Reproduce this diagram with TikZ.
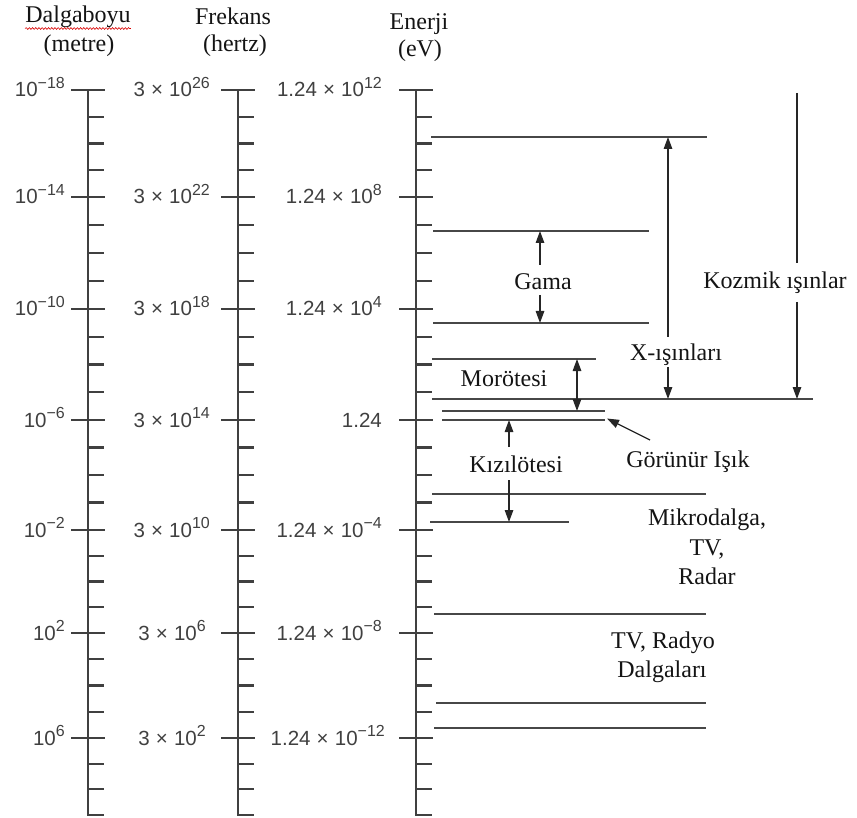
\documentclass[tikz,border=0pt]{standalone}
\usepackage{fontspec}
\setmainfont{Liberation Serif}
\newfontfamily\lsans{Liberation Sans}
\usetikzlibrary{arrows.meta,decorations.pathmorphing}
\newcommand\ex[1]{\raisebox{0.40em}{\fontsize{16}{16}\selectfont #1}}
\newcommand\tms{\hspace{0.3em}×\hspace{0.3em}}
\tikzset{
  axisl/.style={line width=2.3pt, draw=black!75, line join=miter},
  band/.style={line width=2.1pt, draw=black!72},
  arr/.style={line width=1.3pt, draw=black!85, -{Triangle[length=12pt,width=8.5pt]}},
  arrs/.style={line width=1.3pt, draw=black!85, {Triangle[length=12pt,width=8.5pt]}-{Triangle[length=12pt,width=8.5pt]}},
  plain/.style={line width=1.3pt, draw=black!85},
  hdr/.style={inner sep=0pt, anchor=base, text=black!92, font=\fontsize{24}{28}\selectfont},
  num/.style={inner sep=0pt, anchor=base east, text=black!75, font=\lsans\fontsize{20.5}{24}\selectfont},
}
\begin{document}
\begin{tikzpicture}[x=1pt,y=-1pt]
\useasboundingbox (0,0) rectangle (857,818);
% axes
\foreach \x in {88,238,416} {
  \draw[axisl] (\x,90) -- (\x,815) -- (\x+16,815);
  \foreach \y in {90,197,309,420,530,633,738}
    \draw[axisl] (\x-17,\y) -- (\x+17,\y);
  \foreach \ya/\yb in {90/197,197/309,309/420,420/530,530/633,633/738}
    \foreach \k in {1,2,3}
      \draw[axisl] (\x,{\ya+\k*(\yb-\ya)/4}) -- (\x+16,{\ya+\k*(\yb-\ya)/4});
  \foreach \y in {764,789}
    \draw[axisl] (\x,\y) -- (\x+16,\y);
}
% headers
\node[hdr] (h1) at (78,23) {Dalgaboyu};
\node[hdr] (h1u) at (79,52) {(metre)};
\node[hdr] (h2) at (233,25) {Frekans};
\node[hdr] (h2u) at (235,52) {(hertz)};
\node[hdr] (h3) at (419,30) {Enerji};
\node[hdr] (h3u) at (420,57) {(eV)};
\draw[red!85!black, line width=0.6pt, decorate, decoration={snake,amplitude=0.9pt,segment length=3.2pt}]
  ([yshift=-5.5pt]h1.base west) -- ([yshift=-5.5pt]h1.base east);
% wavelength labels
\node[num] (w1) at (65,97) {10\ex{−18}};
\node[num] (w2) at (65,204) {10\ex{−14}};
\node[num] (w3) at (65,316) {10\ex{−10}};
\node[num] (w4) at (65,427) {10\ex{−6}};
\node[num] (w5) at (65,537) {10\ex{−2}};
\node[num] (w6) at (65,640) {10\ex{2}};
\node[num] (w7) at (65,745) {10\ex{6}};
% frequency labels
\node[num] (f1) at (210,97) {3\tms10\ex{26}};
\node[num] (f2) at (210,204) {3\tms10\ex{22}};
\node[num] (f3) at (210,316) {3\tms10\ex{18}};
\node[num] (f4) at (210,427) {3\tms10\ex{14}};
\node[num] (f5) at (210,537) {3\tms10\ex{10}};
\node[num] (f6) at (206,640) {3\tms10\ex{6}};
\node[num] (f7) at (206,745) {3\tms10\ex{2}};
% energy labels
\node[num] (e1) at (382,97) {1.24\tms10\ex{12}};
\node[num] (e2) at (382,204) {1.24\tms10\ex{8}};
\node[num] (e3) at (382,316) {1.24\tms10\ex{4}};
\node[num] (e4) at (382,427) {1.24};
\node[num] (e5) at (382,537) {1.24\tms10\ex{−4}};
\node[num] (e6) at (382,640) {1.24\tms10\ex{−8}};
\node[num] (e7) at (385,745) {1.24\tms10\ex{−12}};
% band boundary lines
\coordinate (b1L) at (431,137); \coordinate (b1R) at (707,137);
\coordinate (b2L) at (433,231); \coordinate (b2R) at (649,231);
\coordinate (b3L) at (433,323); \coordinate (b3R) at (649,323);
\coordinate (b4L) at (432,359); \coordinate (b4R) at (596,359);
\coordinate (b5L) at (432,399); \coordinate (b5R) at (813,399);
\coordinate (b6L) at (442,411); \coordinate (b6R) at (605,411);
\coordinate (b7L) at (442,420); \coordinate (b7R) at (605,420);
\coordinate (b8L) at (432,494); \coordinate (b8R) at (706,494);
\coordinate (b9L) at (430,522); \coordinate (b9R) at (569,522);
\coordinate (b10L) at (434,614); \coordinate (b10R) at (706,614);
\coordinate (b11L) at (436,703); \coordinate (b11R) at (706,703);
\coordinate (b12L) at (434,728); \coordinate (b12R) at (706,728);
\foreach \i in {1,...,12} \draw[band] (b\i L) -- (b\i R);
% labels
\node[hdr] (gama) at (543,290) {Gama};
\node[hdr] (kozmik) at (775,289) {Kozmik ışınlar};
\node[hdr] (xray) at (676,361) {X-ışınları};
\node[hdr] (mor) at (504,386) {Morötesi};
\node[hdr] (kiz) at (516,472) {Kızılötesi};
\node[hdr] (gor) at (688,467) {Görünür Işık};
\node[hdr] (mik) at (707,525) {Mikrodalga,};
\node[hdr] (tv) at (707,555) {TV,};
\node[hdr] (radar) at (707,584) {Radar};
\node[hdr] (tvr) at (663,648) {TV, Radyo};
\node[hdr] (dal) at (662,677) {Dalgaları};
% arrows
\coordinate (xU) at (668,337); \draw[arr] (xU) -- (xU |- b1L);
\coordinate (xD) at (668,367); \draw[arr] (xD) -- (xD |- b5L);
\coordinate (kT) at (797,93); \coordinate (kU) at (797,263); \draw[plain] (kT) -- (kU);
\coordinate (kD) at (797,302); \draw[arr] (kD) -- (kD |- b5L);
\coordinate (gU) at (540,265); \draw[arr] (gU) -- (gU |- b2L);
\coordinate (gD) at (540,295); \draw[arr] (gD) -- (gD |- b3L);
\coordinate (mx) at (577,380); \draw[arrs] (mx |- b4L) -- (mx |- b6L);
\coordinate (iU) at (509,447); \draw[arr] (iU) -- (iU |- b7L);
\coordinate (iD) at (509,480); \draw[arr] (iD) -- (iD |- b9L);
\coordinate (vS) at (650,440); \draw[arr] (vS) -- ([xshift=2pt,yshift=1.5pt]b7R);
\end{tikzpicture}
\end{document}
